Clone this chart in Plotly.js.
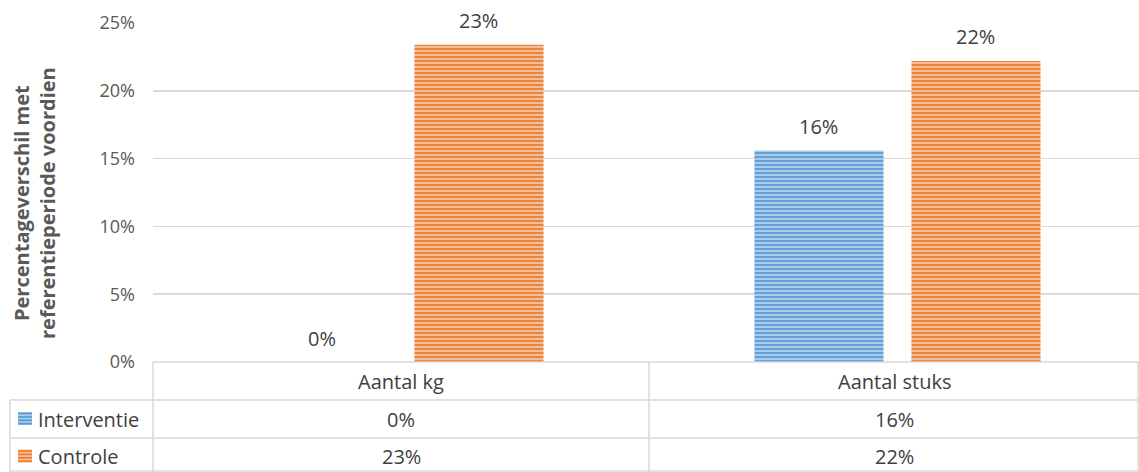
<!DOCTYPE html>
<html>
<head>
<meta charset="utf-8">
<script src="https://cdn.plot.ly/plotly-3.0.1.min.js"></script>
<style>html,body{margin:0;padding:0;background:#fff;}#chart{width:1139px;height:472px;}</style>
</head>
<body>
<div id="chart"></div>
<script>
var categories = ["Aantal kg", "Aantal stuks"];
var seriesNames = ["Interventie", "Controle"];
var interventie = [0.0, 0.156];
var controle = [0.234, 0.222];
var labelsInterventie = ["0%", "16%"];
var labelsControle = ["23%", "22%"];
var yTickVals = [0, 0.05, 0.10, 0.15, 0.20, 0.25];
var yTickText = ["0%", "5%", "10%", "15%", "20%", "25%"];
var yTitle = "Percentageverschil met<br>referentieperiode voordien";

var W = 1139, H = 472, L = 153, R = 0, T = 23, B = 110;
var pw = W - L - R, ph = H - T - B;
function px(x){ return (x - L) / pw; }
function py(y){ return (H - B - y) / ph; }

var FONT = "'Open Sans', Lato, sans-serif";
var gridCol = "#d9d9d9";
var txtCol = "#404040";
var LBL = 20;

var blue = {fg:"#5B9BD5", bg:"#A9CBEA"};
var orange = {fg:"#ED7D31", bg:"#F6BE98"};

var allSeries = [interventie, controle];
var allLabels = [labelsInterventie, labelsControle];
var cols = [blue, orange];

var traces = [];
for (var s=0;s<seriesNames.length;s++){
  traces.push({type:"bar", name:seriesNames[s], x:categories, y:allSeries[s], hoverinfo:"skip",
    marker:{color:cols[s].bg, line:{width:0}, pattern:{shape:"-", fgcolor:cols[s].fg, bgcolor:cols[s].bg, size:4, solidity:0.45}}});
}

var shapes = [];
function line(x0,y0,x1,y1){
  shapes.push({type:"line", xref:"paper", yref:"paper", x0:px(x0), y0:py(y0), x1:px(x1), y1:py(y1),
    line:{color:gridCol, width:1.5}, layer:"above"});
}
// table borders
line(153,362,1139,362);
line(10,400,1139,400);
line(10,438,1139,438);
line(10,471,1139,471);
line(153,362,153,472);
line(649,362,649,472);
line(1138,362,1138,472);
line(10,400,10,472);

// legend keys in table
function key(yc, c){
  shapes.push({type:"rect", xref:"paper", yref:"paper", x0:px(18), x1:px(32), y0:py(yc-6.5), y1:py(yc+6.5),
    fillcolor:c.bg, line:{width:0}});
  for (var i=0;i<4;i++){
    var yy = yc-5+i*3.4;
    shapes.push({type:"line", xref:"paper", yref:"paper", x0:px(18), x1:px(32), y0:py(yy), y1:py(yy),
      line:{color:c.fg, width:1.7}});
  }
}
key(418.5, blue);
key(456, orange);

var annotations = [];
// data labels above bars
var slotHalf = 78.5;
for (var s=0;s<seriesNames.length;s++){
  for (var c=0;c<categories.length;c++){
    annotations.push({xref:"x", yref:"y", x:c, y:allSeries[s][c], text:allLabels[s][c], showarrow:false,
      xshift:(s===0?-slotHalf:slotHalf), yshift:24, xanchor:"center", yanchor:"middle",
      font:{family:FONT, size:LBL, color:txtCol}});
  }
}
// table texts
var colCenters = [401, 894];
var rowY = [419, 456];
for (var c=0;c<categories.length;c++){
  annotations.push({xref:"paper", yref:"paper", x:px(colCenters[c]), y:py(381), text:categories[c], showarrow:false,
    font:{family:FONT, size:LBL, color:txtCol}, xanchor:"center", yanchor:"middle"});
  for (var r=0;r<seriesNames.length;r++){
    annotations.push({xref:"paper", yref:"paper", x:px(colCenters[c]), y:py(rowY[r]), text:allLabels[r][c], showarrow:false,
      font:{family:FONT, size:LBL, color:txtCol}, xanchor:"center", yanchor:"middle"});
  }
}
for (var r=0;r<seriesNames.length;r++){
  annotations.push({xref:"paper", yref:"paper", x:px(36), y:py(rowY[r]), text:seriesNames[r], showarrow:false,
    font:{family:FONT, size:LBL, color:txtCol}, xanchor:"left", yanchor:"middle"});
}
// y-axis title
annotations.push({xref:"paper", yref:"paper", x:px(35), y:py(203), text:"<b>"+yTitle+"</b>", showarrow:false,
  textangle:-90, xanchor:"center", yanchor:"middle", font:{family:FONT, size:20, color:"#595959"}});

var layout = {
  width:W, height:H,
  margin:{l:L, r:R, t:T, b:B, pad:0},
  paper_bgcolor:"#fff", plot_bgcolor:"#fff",
  showlegend:false,
  barmode:"group", bargap:0.368, bargroupgap:0.178,
  font:{family:FONT, color:"#595959"},
  xaxis:{type:"category", range:[-0.498, 1.486], showticklabels:false, showgrid:false, zeroline:false, showline:false, ticks:""},
  yaxis:{range:[0,0.25], tickvals:yTickVals, ticktext:yTickText, showgrid:true, gridcolor:gridCol, gridwidth:1.5,
    zeroline:false, showline:false, ticks:"", ticklabelstandoff:17, tickfont:{family:FONT, size:18, color:"#595959"},
    automargin:false},
  shapes:shapes,
  annotations:annotations
};

Plotly.newPlot("chart", traces, layout, {displayModeBar:false, staticPlot:true});
</script>
</body>
</html>
